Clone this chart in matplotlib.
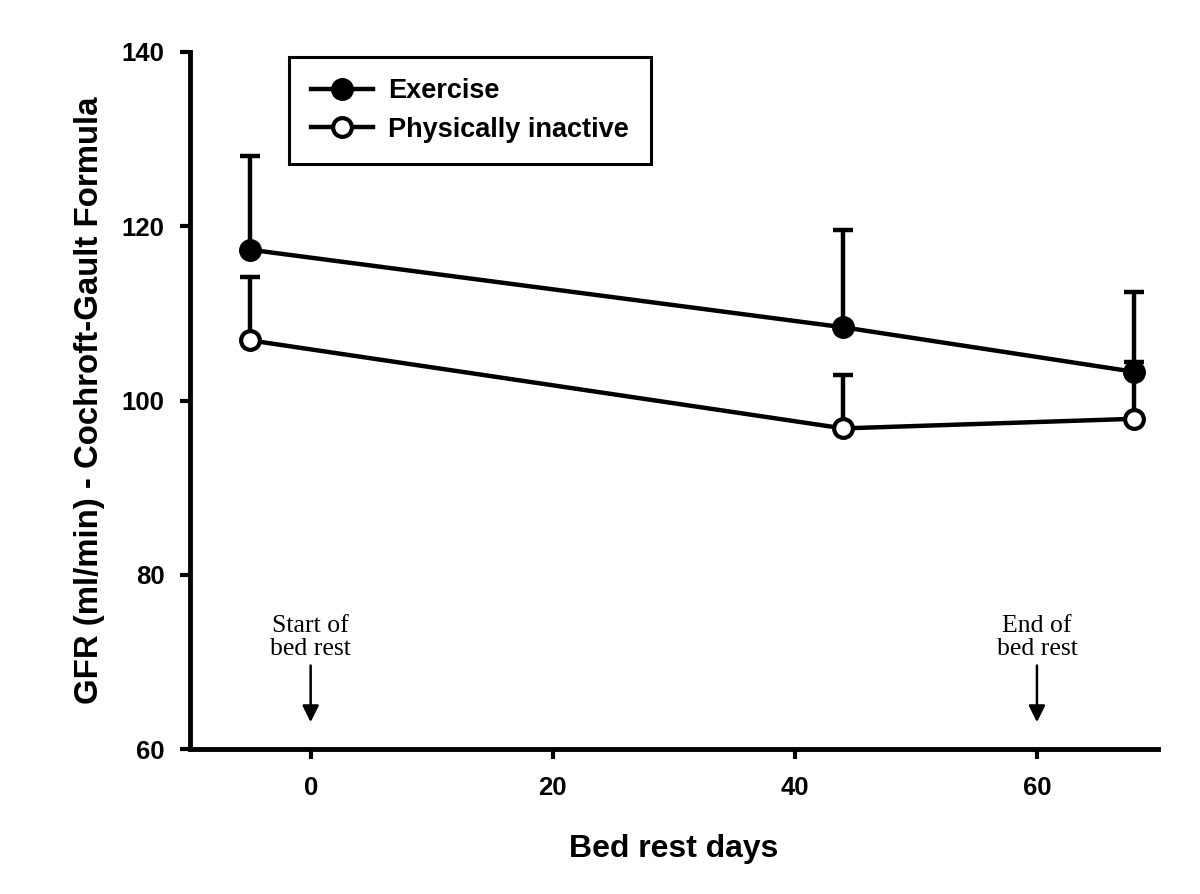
import matplotlib
matplotlib.use("Agg")
from matplotlib import pyplot as plt
import numpy as np

# bed rest day of each measurement
days = [-5, 44, 68]
# exercise group: mean and upper error end
exercise_mean = [117.3, 108.4, 103.3]
exercise_top = [128.1, 119.6, 112.5]
# physically inactive group
inactive_mean = [106.9, 96.8, 97.9]
inactive_top = [114.2, 102.9, 104.4]

marks = [0, 60]
mark_labels = ["Start of\nbed rest", "End of\nbed rest"]

plt.rcParams['font.family'] = ['Liberation Sans', 'DejaVu Sans']

fig = plt.figure(figsize=(12, 8.94), dpi=100)
ax = fig.add_axes([0.158, 0.162, 0.807, 0.780])

lw = 3.2
for mean, top, face, lab in [(exercise_mean, exercise_top, 'black', 'Exercise'),
                             (inactive_mean, inactive_top, 'white', 'Physically inactive')]:
    mean = np.array(mean)
    err = [np.zeros(len(mean)), np.array(top) - mean]
    ax.errorbar(days, mean, yerr=err, fmt='none', ecolor='black', elinewidth=lw,
                capsize=7, capthick=lw, zorder=2)
    ax.plot(days, mean, color='black', lw=lw, marker='o', markersize=13.5,
            markerfacecolor=face, markeredgecolor='black', markeredgewidth=3,
            label=lab, zorder=3)

for m, t in zip(marks, mark_labels):
    ax.text(m, 70.2, t, ha='center', va='bottom', fontsize=18.5,
            family=['Liberation Serif', 'DejaVu Serif'], linespacing=1.05)
    ax.annotate('', xy=(m, 63.1), xytext=(m, 69.6),
                arrowprops=dict(arrowstyle='-|>', color='black', lw=1.8,
                                mutation_scale=25, shrinkA=0, shrinkB=0))

ax.set_xlim(-10, 70)
ax.set_ylim(60, 140)
ax.set_xticks([0, 20, 40, 60])
ax.set_yticks([60, 80, 100, 120, 140])
ax.spines['top'].set_visible(False)
ax.spines['right'].set_visible(False)
ax.spines['left'].set_linewidth(3.5)
ax.spines['bottom'].set_linewidth(3.5)
ax.tick_params(direction='out', length=7, width=3, labelsize=18.5)
ax.tick_params(axis='x', pad=12)
ax.tick_params(axis='y', pad=11)
for t in ax.get_xticklabels() + ax.get_yticklabels():
    t.set_fontweight('bold')

ax.set_xlabel("Bed rest days", fontsize=23, fontweight='bold', labelpad=25)
ax.set_ylabel("GFR (ml/min) - Cochroft-Gault Formula", fontsize=23.8,
              fontweight='bold', labelpad=12)

leg = ax.legend(loc='upper left', bbox_to_anchor=(0.103, 0.993),
                prop={'size': 19.5, 'weight': 'bold'},
                frameon=True, fancybox=False, handlelength=2.3, borderpad=0.8,
                labelspacing=0.45, borderaxespad=0, handletextpad=0.55)
leg.get_frame().set_edgecolor('black')
leg.get_frame().set_linewidth(2.2)
leg.get_frame().set_alpha(1)

fig.savefig("out.png", dpi=100)
